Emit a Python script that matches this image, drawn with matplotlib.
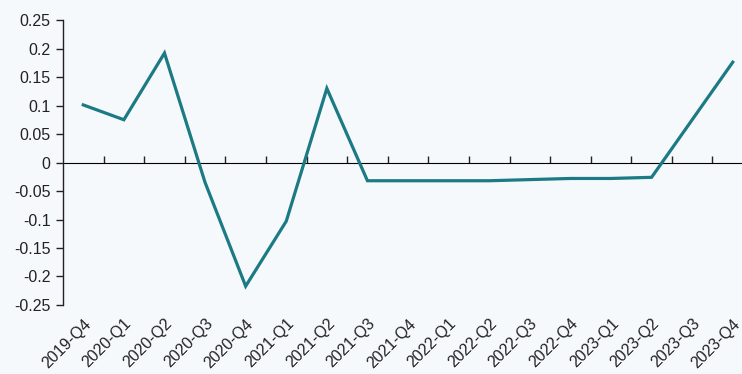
import matplotlib
matplotlib.use("Agg")
import matplotlib.pyplot as plt
import numpy as np

quarters = ["2019-Q4", "2020-Q1", "2020-Q2", "2020-Q3", "2020-Q4",
            "2021-Q1", "2021-Q2", "2021-Q3", "2021-Q4", "2022-Q1",
            "2022-Q2", "2022-Q3", "2022-Q4", "2023-Q1", "2023-Q2",
            "2023-Q3", "2023-Q4"]
values = [0.101, 0.075, 0.192, -0.035, -0.217,
          -0.103, 0.130, -0.032, -0.032, -0.032,
          -0.032, -0.030, -0.028, -0.028, -0.026,
          0.075, 0.176]
y_ticks = [0.25, 0.2, 0.15, 0.1, 0.05, 0, -0.05, -0.1, -0.15, -0.2, -0.25]
y_tick_labels = ["0.25", "0.2", "0.15", "0.1", "0.05", "0",
                 "-0.05", "-0.1", "-0.15", "-0.2", "-0.25"]

bg = "#f6f9fb"
line_color = "#1b7a84"
plt.rcParams["font.family"] = ["Liberation Sans", "DejaVu Sans"]

fig = plt.figure(figsize=(7.42, 3.74), dpi=100, facecolor=bg)
ax = fig.add_axes([0.0849, 0.1845, 0.930, 0.762])
ax.set_facecolor(bg)

x = np.arange(len(quarters))
ax.plot(x, values, color=line_color, lw=2.3, solid_joinstyle="miter", zorder=3)

ax.set_xlim(-0.5, len(quarters) - 0.5)
ax.set_ylim(-0.25, 0.25)
ax.set_yticks(y_ticks)
ax.set_yticklabels(y_tick_labels, fontsize=11.5, color="#222222")
ax.tick_params(axis="y", direction="out", length=5, width=1, color="#222222", pad=4)

# category labels along the bottom
ax.set_xticks(x)
ax.set_xticklabels(quarters, rotation=45, ha="right", va="top",
                   rotation_mode="anchor", fontsize=11.5, color="#222222")
ax.tick_params(axis="x", length=0, pad=8)

for side in ("top", "right", "bottom"):
    ax.spines[side].set_visible(False)
ax.spines["left"].set_color("#222222")
ax.spines["left"].set_linewidth(1)

# category axis through zero with boundary tick marks
zero_axis = ax.secondary_xaxis(0.5)
zero_axis.set_xticks(x[:-1] + 0.5)
zero_axis.set_xticklabels([])
zero_axis.tick_params(direction="out", length=5, width=1, color="#222222")
zero_axis.spines["bottom"].set_color("#222222")
zero_axis.spines["bottom"].set_linewidth(1)

fig.savefig("out.png", dpi=100, facecolor=bg)
